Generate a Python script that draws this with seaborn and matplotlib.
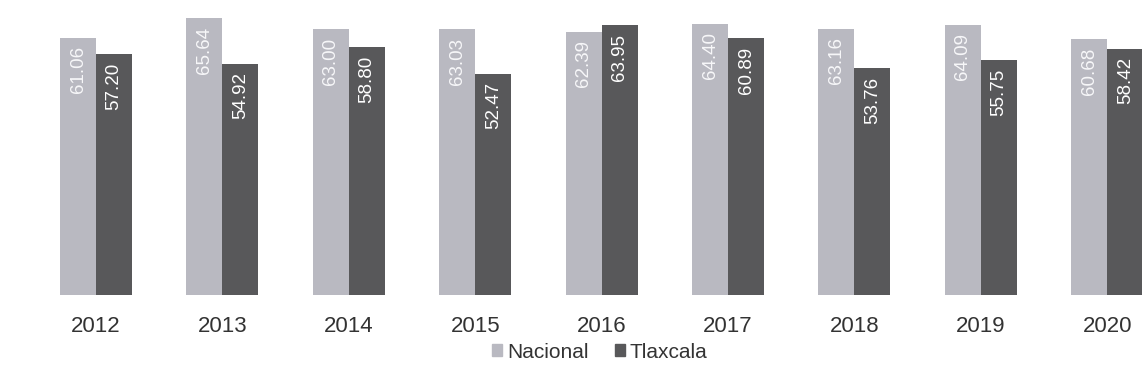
import matplotlib
matplotlib.use("Agg")
import matplotlib.pyplot as plt
import pandas as pd
import seaborn as sns

years = ["2012", "2013", "2014", "2015", "2016", "2017", "2018", "2019", "2020"]
nacional = [61.06, 65.64, 63.00, 63.03, 62.39, 64.40, 63.16, 64.09, 60.68]
tlaxcala = [57.20, 54.92, 58.80, 52.47, 63.95, 60.89, 53.76, 55.75, 58.42]
series = ["Nacional", "Tlaxcala"]
colors = ["#b9b9c1", "#58585a"]

df = pd.DataFrame({
    "year": years * 2,
    "valor": nacional + tlaxcala,
    "serie": [series[0]] * len(years) + [series[1]] * len(years),
})

sns.set_theme(style="white")
plt.rcParams["font.family"] = ["Liberation Sans", "DejaVu Sans"]

fig = plt.figure(figsize=(11.42, 3.83), dpi=100)
ax = fig.add_axes([0, 0.2298, 1, 0.7702])

sns.barplot(data=df, x="year", y="valor", hue="serie", palette=colors,
            width=0.57, saturation=1, legend=False, linewidth=0, ax=ax)

# etiquetas verticales dentro de la barra, cerca del borde superior
for cont, txt_col in zip(ax.containers, ["#f7f7f9", "#ffffff"]):
    for p in cont:
        h = p.get_height()
        ax.annotate(f"{h:.2f}", (p.get_x() + p.get_width() / 2, h),
                    xytext=(0, -6), textcoords="offset points",
                    rotation=90, ha="center", va="top",
                    fontsize=13.5, color=txt_col)

ax.set_xlim(-0.76, 8.275)
ax.set_ylim(0, 70)
ax.set_xlabel("")
ax.set_ylabel("")
ax.set_yticks([])
ax.tick_params(axis="x", length=0, pad=15, labelsize=16, labelcolor="#333333")
sns.despine(ax=ax, left=True, bottom=True)

handles = [plt.Rectangle((0, 0), 1, 1, color=c) for c in colors]
fig.legend(handles, series, loc="center", bbox_to_anchor=(600 / 1142, 1 - 352 / 383),
           ncol=2, frameon=False, fontsize=15, handlelength=0.45, handleheight=0.45,
           handletextpad=0.25, columnspacing=1.3, labelcolor="#333333")

fig.savefig("out.png", dpi=100)
